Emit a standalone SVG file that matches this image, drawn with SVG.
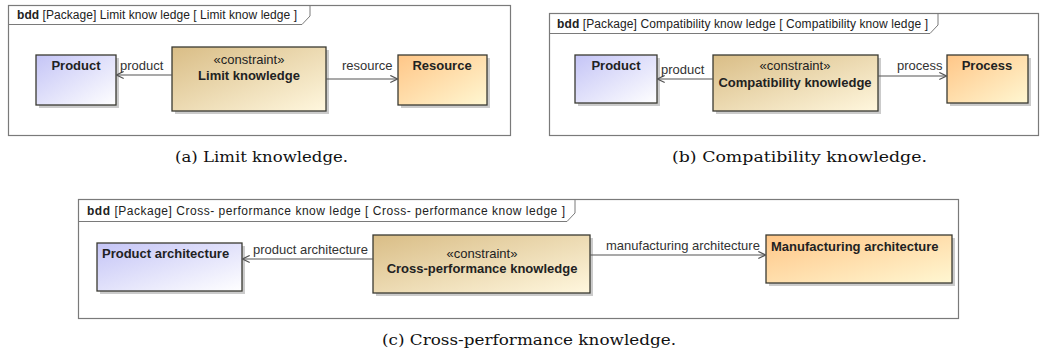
<svg xmlns="http://www.w3.org/2000/svg" width="1041" height="359" viewBox="0 0 1041 359">
<style>
.frame{fill:#fff;stroke:#7a7a7a;stroke-width:1.2}
.tab{fill:none;stroke:#7a7a7a;stroke-width:1}
.hdr{font-family:"Liberation Sans",Arial,sans-serif;font-size:12px;fill:#222}
.box{stroke:#3a3a32;stroke-width:1.3}
.shadow{fill:#a8a8a8;opacity:0.6}
.name{font-family:"Liberation Sans",Arial,sans-serif;font-size:13px;font-weight:bold;fill:#222}
.st{font-family:"Liberation Sans",Arial,sans-serif;font-size:13px;fill:#222}
.lbl{font-family:"Liberation Sans",Arial,sans-serif;font-size:13px;fill:#333}
.conn{stroke:#555;stroke-width:1.2;fill:none}
.cap{font-family:"DejaVu Serif","Liberation Serif",serif;font-size:15.5px;fill:#111}
</style>
<defs>
<linearGradient id="gBlue" x1="0" y1="0" x2="1" y2="1"><stop offset="0" stop-color="#c4c4f6"/><stop offset="1" stop-color="#ffffff"/></linearGradient>
<linearGradient id="gTan" x1="0" y1="0" x2="1" y2="1"><stop offset="0" stop-color="#d9bd86"/><stop offset="1" stop-color="#fff7de"/></linearGradient>
<linearGradient id="gOrange" x1="0" y1="0" x2="1" y2="1"><stop offset="0" stop-color="#ffc687"/><stop offset="1" stop-color="#fff7d2"/></linearGradient>
<marker id="open" viewBox="0 0 10 10" refX="9" refY="5" markerWidth="9" markerHeight="9" markerUnits="userSpaceOnUse" orient="auto">
<path d="M1,1 L9,5 L1,9" fill="none" stroke="#555" stroke-width="1.3"/>
</marker>
</defs>

<!-- Panel (a) -->
<g id="frame-a">
<rect class="frame" x="8.5" y="5.5" width="502" height="130"/>
<path class="tab" d="M8.5,24.5 H302 L310,16 V5.5"/>
<text class="hdr" x="17" y="19" textLength="280" lengthAdjust="spacing"><tspan font-weight="bold">bdd</tspan> [Package] Limit know ledge [ Limit know ledge ]</text>
</g>
<g id="a-product">
<rect class="shadow" x="39" y="58" width="80" height="50"/>
<rect class="box" x="36" y="55" width="80" height="50" fill="url(#gBlue)"/>
<text class="name" x="76" y="70" text-anchor="middle">Product</text>
</g>
<g id="a-limit">
<rect class="shadow" x="175" y="50" width="154" height="64"/>
<rect class="box" x="172" y="47" width="154" height="64" fill="url(#gTan)" stroke="#b8a070"/>
<text class="st" x="249" y="64" text-anchor="middle">«constraint»</text>
<text class="name" x="249" y="80" text-anchor="middle">Limit knowledge</text>
</g>
<g id="a-resource">
<rect class="shadow" x="401" y="58" width="89" height="50"/>
<rect class="box" x="398" y="55" width="89" height="50" fill="url(#gOrange)"/>
<text class="name" x="442" y="70" text-anchor="middle">Resource</text>
</g>

<!-- Panel (b) -->
<g id="frame-b">
<rect class="frame" x="549.5" y="13.5" width="489" height="122"/>
<path class="tab" d="M549.5,33.5 H930 L938,25 V13.5"/>
<text class="hdr" x="557" y="28" textLength="371" lengthAdjust="spacing"><tspan font-weight="bold">bdd</tspan> [Package] Compatibility know ledge [ Compatibility know ledge ]</text>
</g>
<g id="b-product">
<rect class="shadow" x="578" y="58" width="82" height="48"/>
<rect class="box" x="575" y="55" width="82" height="48" fill="url(#gBlue)"/>
<text class="name" x="616" y="70" text-anchor="middle">Product</text>
</g>
<g id="b-compat">
<rect class="shadow" x="716" y="58" width="165" height="56"/>
<rect class="box" x="713" y="55" width="165" height="56" fill="url(#gTan)" stroke="#b8a070"/>
<text class="st" x="795" y="70" text-anchor="middle">«constraint»</text>
<text class="name" x="795" y="87" text-anchor="middle">Compatibility knowledge</text>
</g>
<g id="b-process">
<rect class="shadow" x="950" y="58" width="81" height="48"/>
<rect class="box" x="947" y="55" width="81" height="48" fill="url(#gOrange)"/>
<text class="name" x="987" y="70" text-anchor="middle">Process</text>
</g>

<!-- Panel (c) -->
<g id="frame-c">
<rect class="frame" x="78.5" y="199.5" width="880" height="119"/>
<path class="tab" d="M78.5,221.5 H567 L575,213 V199.5"/>
<text class="hdr" x="87" y="215" textLength="478" lengthAdjust="spacing"><tspan font-weight="bold">bdd</tspan> [Package] Cross- performance know ledge [ Cross- performance know ledge ]</text>
</g>
<g id="c-product-arch">
<rect class="shadow" x="100" y="246" width="145" height="48"/>
<rect class="box" x="97" y="243" width="145" height="48" fill="url(#gBlue)"/>
<text class="name" x="102" y="258">Product architecture</text>
</g>
<g id="c-cross">
<rect class="shadow" x="376" y="238" width="217" height="58"/>
<rect class="box" x="373" y="235" width="217" height="58" fill="url(#gTan)" stroke="#b8a070"/>
<text class="st" x="482" y="258" text-anchor="middle">«constraint»</text>
<text class="name" x="482" y="273" text-anchor="middle">Cross-performance knowledge</text>
</g>
<g id="c-manuf-arch">
<rect class="shadow" x="769" y="238" width="186" height="48"/>
<rect class="box" x="766" y="235" width="186" height="48" fill="url(#gOrange)"/>
<text class="name" x="771" y="251">Manufacturing architecture</text>
</g>

<!-- Connectors -->
<g id="connectors">
<line class="conn" x1="172" y1="75" x2="116.5" y2="75" marker-end="url(#open)"/>
<text class="lbl" x="120" y="70">product</text>
<line class="conn" x1="326" y1="79" x2="397.5" y2="79" marker-end="url(#open)"/>
<text class="lbl" x="342" y="70">resource</text>

<line class="conn" x1="713" y1="79" x2="657.5" y2="79" marker-end="url(#open)"/>
<text class="lbl" x="661" y="74">product</text>
<line class="conn" x1="878" y1="76" x2="946.5" y2="76" marker-end="url(#open)"/>
<text class="lbl" x="897" y="70">process</text>

<line class="conn" x1="373" y1="259" x2="242.5" y2="259" marker-end="url(#open)"/>
<text class="lbl" x="253" y="254">product architecture</text>
<line class="conn" x1="590" y1="255" x2="765.5" y2="255" marker-end="url(#open)"/>
<text class="lbl" x="606" y="250">manufacturing architecture</text>
</g>

<!-- Captions -->
<text class="cap" x="175" y="162" textLength="173" lengthAdjust="spacingAndGlyphs">(a) Limit knowledge.</text>
<text class="cap" x="672" y="162" textLength="255" lengthAdjust="spacingAndGlyphs">(b) Compatibility knowledge.</text>
<text class="cap" x="382" y="345" textLength="294" lengthAdjust="spacingAndGlyphs">(c) Cross-performance knowledge.</text>
</svg>
